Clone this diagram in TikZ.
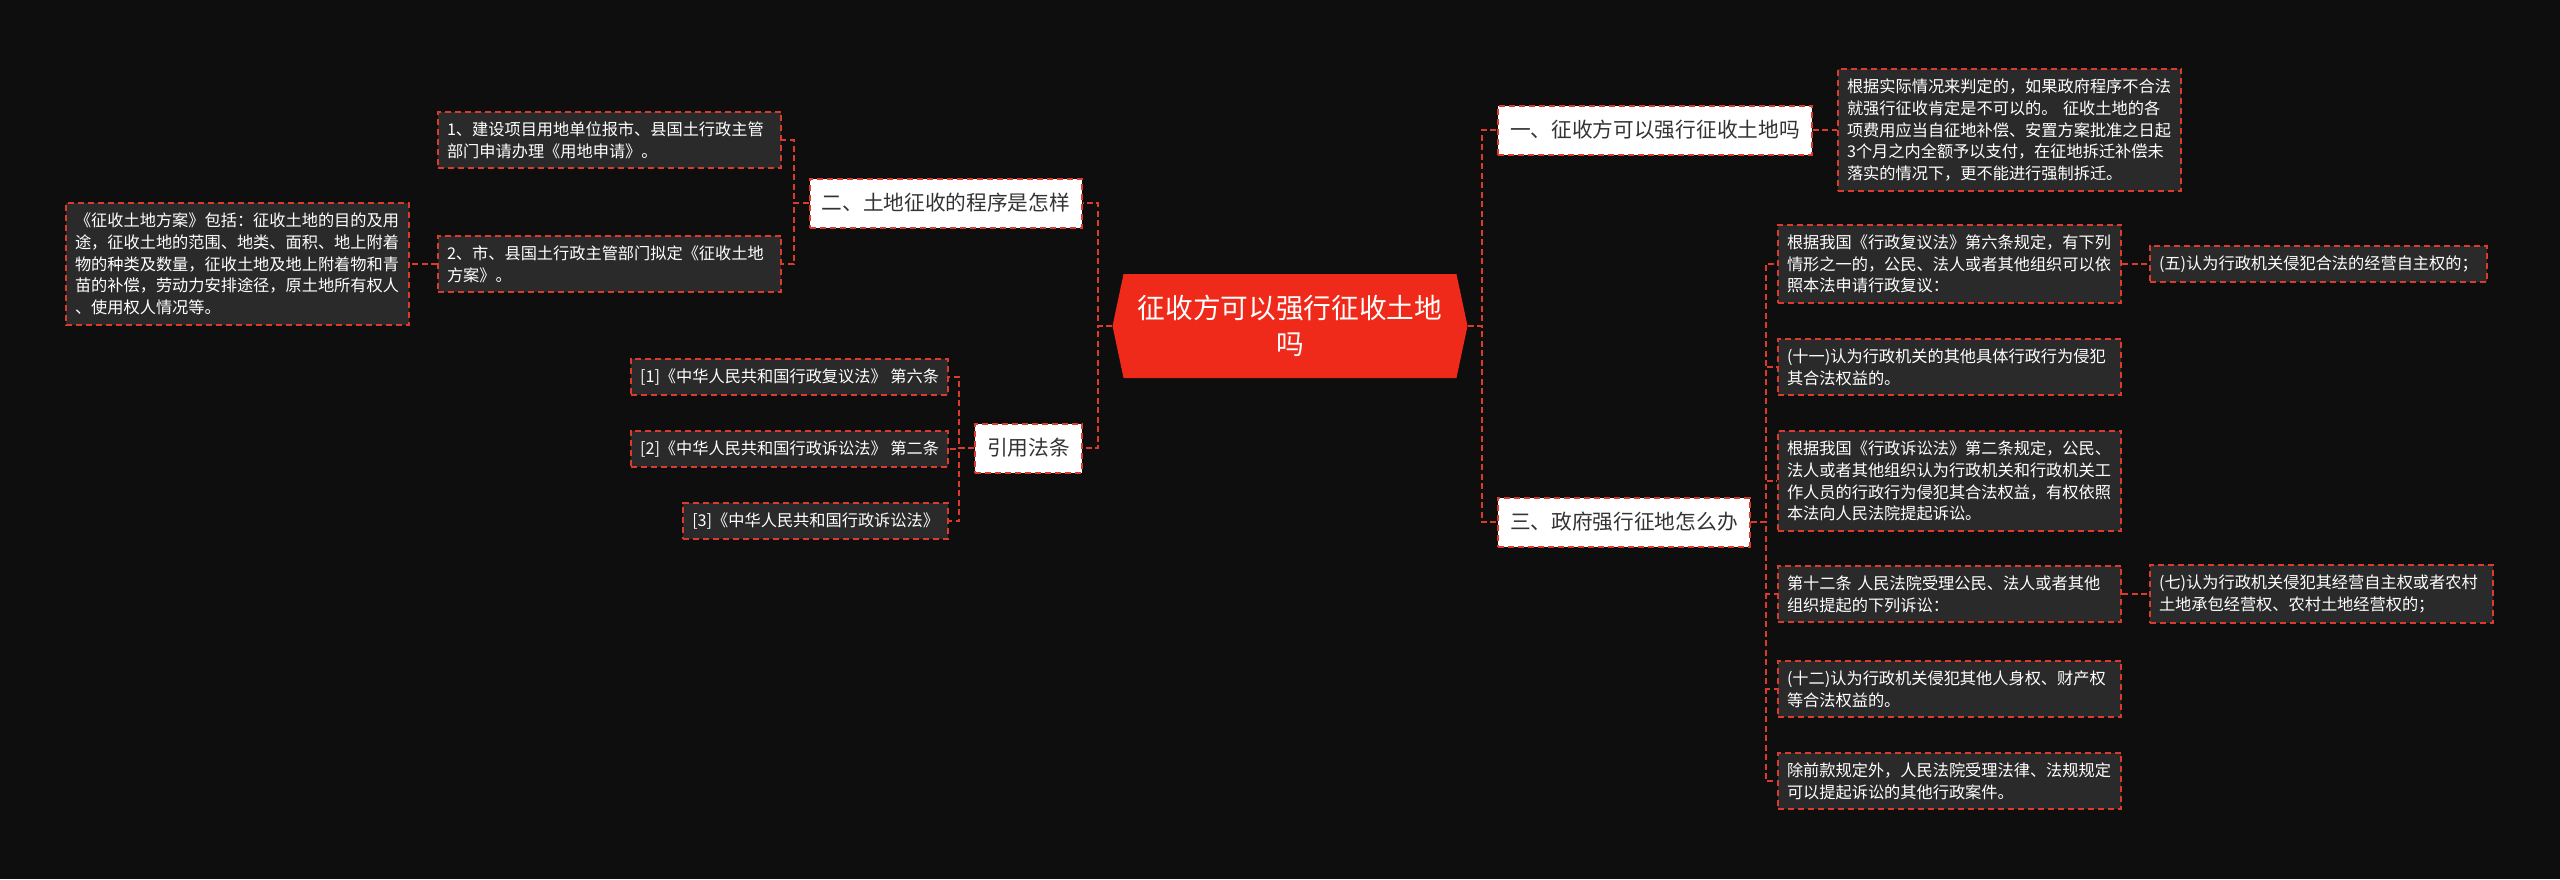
\documentclass[tikz,border=0pt]{standalone}
\usepackage{fontspec}
\newfontfamily\cjk{Noto Sans CJK SC}
\usetikzlibrary{shapes.symbols}
\definecolor{bgdark}{HTML}{0E0E0E}
\definecolor{leafgray}{HTML}{2A2A2A}
\definecolor{linered}{HTML}{DD3A2E}
\definecolor{rootred}{HTML}{EF2A1A}
\definecolor{darktext}{HTML}{333333}
\begin{document}
\begin{tikzpicture}[x=1pt,y=-1pt,
	link/.style={draw=linered,line width=2pt,dash pattern=on 6pt off 3.5pt},
	rootbox/.style={shape=signal,signal to=west and east,signal pointer angle=156,
		fill=rootred,text=white,font=\cjk\fontsize{27.7}{36}\selectfont,align=center,
		minimum width=355,minimum height=104,inner sep=0pt},
	topicbox/.style={draw=linered,line width=2pt,dash pattern=on 6pt off 4pt,fill=white,
		text=darktext,font=\cjk\fontsize{20.7}{25}\selectfont,minimum height=49,
		inner xsep=12pt,inner ysep=0pt},
	leafbox/.style={draw=linered,line width=2pt,dash pattern=on 6pt off 4pt,fill=leafgray,
		text=white,font=\cjk\fontsize{16.2}{21.8}\selectfont,align=left,
		inner xsep=9pt,inner ysep=10pt},
	widebox/.style={leafbox,text width=325pt}]
	\fill[bgdark] (0,0) rectangle (2560,879);
	\useasboundingbox (0,0) rectangle (2560,879);
	% centre
	\node[rootbox] (root) at (1290,326) {征收方可以强行征收土地\\吗};
	% topics
	\node[topicbox,anchor=west] (q1) at (1497,130) {一、征收方可以强行征收土地吗};
	\node[topicbox,anchor=east] (q2) at (1083,203) {二、土地征收的程序是怎样};
	\node[topicbox,anchor=west] (q3) at (1497,522) {三、政府强行征地怎么办};
	\node[topicbox,anchor=east] (q4) at (1083,448) {引用法条};
	% left side
	\node[widebox,anchor=east] (n1) at (782,140) {1、建设项目用地单位报市、县国土行政主管\\部门申请办理《用地申请》。};
	\node[widebox,anchor=east] (n2) at (782,264) {2、市、县国土行政主管部门拟定《征收土地\\方案》。};
	\node[widebox,anchor=east] (n2a) at (410,264) {《征收土地方案》包括：征收土地的目的及用\\途，征收土地的范围、地类、面积、地上附着\\物的种类及数量，征收土地及地上附着物和青\\苗的补偿，劳动力安排途径，原土地所有权人\\、使用权人情况等。};
	\node[leafbox,anchor=east] (r1) at (949,377) {[1]《中华人民共和国行政复议法》 第六条};
	\node[leafbox,anchor=east] (r2) at (949,449) {[2]《中华人民共和国行政诉讼法》 第二条};
	\node[leafbox,anchor=east] (r3) at (949,521) {[3]《中华人民共和国行政诉讼法》};
	% right side
	\node[widebox,anchor=west] (a0) at (1837,130) {根据实际情况来判定的，如果政府程序不合法\\就强行征收肯定是不可以的。 征收土地的各\\项费用应当自征地补偿、安置方案批准之日起\\3个月之内全额予以支付，在征地拆迁补偿未\\落实的情况下，更不能进行强制拆迁。};
	\node[widebox,anchor=west] (c1) at (1777,264) {根据我国《行政复议法》第六条规定，有下列\\情形之一的，公民、法人或者其他组织可以依\\照本法申请行政复议：};
	\node[leafbox,anchor=west] (c1a) at (2149,264) {(五)认为行政机关侵犯合法的经营自主权的；};
	\node[widebox,anchor=west] (c2) at (1777,367) {(十一)认为行政机关的其他具体行政行为侵犯\\其合法权益的。};
	\node[widebox,anchor=west] (c3) at (1777,481) {根据我国《行政诉讼法》第二条规定，公民、\\法人或者其他组织认为行政机关和行政机关工\\作人员的行政行为侵犯其合法权益，有权依照\\本法向人民法院提起诉讼。};
	\node[widebox,anchor=west] (c4) at (1777,594) {第十二条 人民法院受理公民、法人或者其他\\组织提起的下列诉讼：};
	\node[widebox,anchor=west] (c4a) at (2149,594) {(七)认为行政机关侵犯其经营自主权或者农村\\土地承包经营权、农村土地经营权的；};
	\node[widebox,anchor=west] (c5) at (1777,689) {(十二)认为行政机关侵犯其他人身权、财产权\\等合法权益的。};
	\node[widebox,anchor=west] (c6) at (1777,781) {除前款规定外，人民法院受理法律、法规规定\\可以提起诉讼的其他行政案件。};
	% connectors
	\foreach \t in {q2,q4}
		\draw[link] (root.west) -- ++(-14,0) |- (\t.east);
	\foreach \t in {q1,q3}
		\draw[link] (root.east) -- ++(14,0) |- (\t.west);
	\foreach \t in {n1,n2}
		\draw[link] (q2.west) -- ++(-15,0) |- (\t.east);
	\draw[link] (n2.west) -- (n2a.east);
	\foreach \t in {r1,r2,r3}
		\draw[link] (q4.west) -- ++(-15,0) |- (\t.east);
	\draw[link] (q1.east) -- (a0.west);
	\foreach \t in {c1,c2,c3,c4,c5,c6}
		\draw[link] (q3.east) -- ++(15,0) |- (\t.west);
	\draw[link] (c1.east) -- (c1a.west);
	\draw[link] (c4.east) -- (c4a.west);
\end{tikzpicture}
\end{document}
